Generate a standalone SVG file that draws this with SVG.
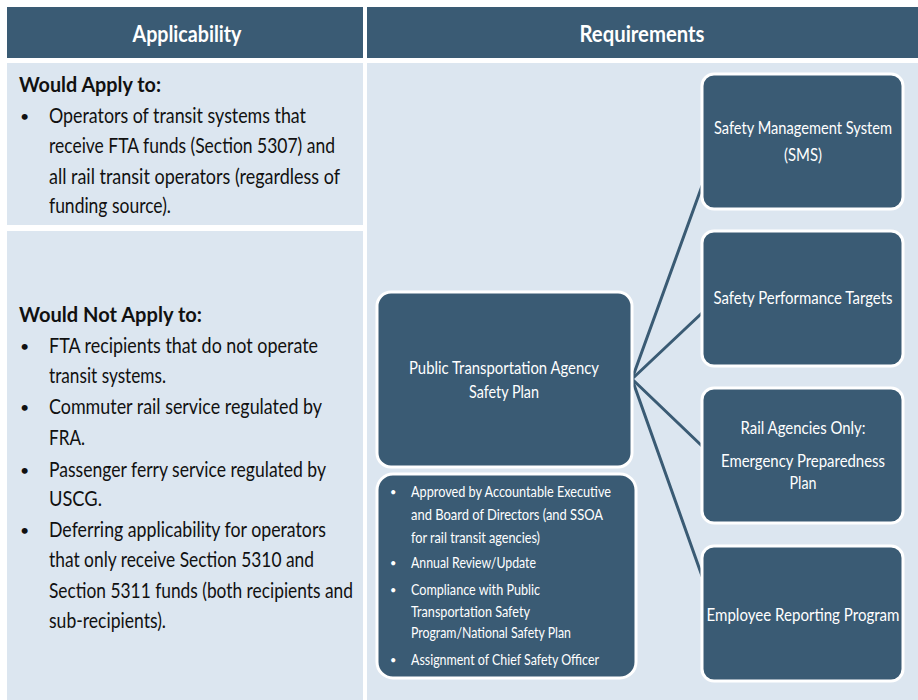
<svg xmlns="http://www.w3.org/2000/svg" width="918" height="700" viewBox="0 0 918 700">
<defs>
<style>
.hdr{fill:#3a5b74}
.cell{fill:#dce6f0}
.box{fill:#3a5b74;stroke:#ffffff;stroke-width:3}
.conn{stroke:#3a5b74;stroke-width:3;fill:none;stroke-linecap:round}
text{font-family:Lato,"Liberation Sans","DejaVu Sans",sans-serif}
.ht{fill:#ffffff;font-size:23px;font-weight:bold;text-anchor:middle}
.lt{fill:#111111;font-size:21.5px}
.lb{fill:#111111;font-size:21.5px;font-weight:bold}
.lbul{fill:#111111;font-size:16px}
.bt{fill:#ffffff;font-size:17.5px;text-anchor:middle}
.st{fill:#ffffff;font-size:15px}
.sbul{fill:#ffffff;font-size:11px}
</style>
</defs>
<rect width="918" height="700" fill="#ffffff"/>
<g id="header-applicability">
<rect class="hdr" x="7" y="7" width="356" height="51"/>
<text class="ht" x="187" y="42" textLength="109" lengthAdjust="spacingAndGlyphs">Applicability</text>
</g>
<g id="header-requirements">
<rect class="hdr" x="367" y="7" width="551" height="51"/>
<text class="ht" x="642" y="42" textLength="125" lengthAdjust="spacingAndGlyphs">Requirements</text>
</g>
<g id="cell-would-apply">
<rect class="cell" x="7" y="63" width="356" height="162"/>
<text class="lb" x="19" y="92" textLength="142" lengthAdjust="spacingAndGlyphs">Would Apply to:</text>
<text class="lbul" x="20" y="122">•</text>
<text class="lt" x="49" y="123" textLength="257" lengthAdjust="spacingAndGlyphs">Operators of transit systems that</text>
<text class="lt" x="49" y="153" textLength="286" lengthAdjust="spacingAndGlyphs">receive FTA funds (Section 5307) and</text>
<text class="lt" x="49" y="184" textLength="291" lengthAdjust="spacingAndGlyphs">all rail transit operators (regardless of</text>
<text class="lt" x="49" y="213" textLength="122" lengthAdjust="spacingAndGlyphs">funding source).</text>
</g>
<g id="cell-would-not-apply">
<rect class="cell" x="7" y="231" width="356" height="469"/>
<text class="lb" x="19" y="322" textLength="183" lengthAdjust="spacingAndGlyphs">Would Not Apply to:</text>
<text class="lbul" x="20" y="352">•</text>
<text class="lt" x="49" y="353" textLength="269" lengthAdjust="spacingAndGlyphs">FTA recipients that do not operate</text>
<text class="lt" x="49" y="383" textLength="117" lengthAdjust="spacingAndGlyphs">transit systems.</text>
<text class="lbul" x="20" y="413">•</text>
<text class="lt" x="49" y="414" textLength="273" lengthAdjust="spacingAndGlyphs">Commuter rail service regulated by</text>
<text class="lt" x="49" y="445" textLength="36" lengthAdjust="spacingAndGlyphs">FRA.</text>
<text class="lbul" x="20" y="476">•</text>
<text class="lt" x="49" y="477" textLength="277" lengthAdjust="spacingAndGlyphs">Passenger ferry service regulated by</text>
<text class="lt" x="49" y="506" textLength="53" lengthAdjust="spacingAndGlyphs">USCG.</text>
<text class="lbul" x="20" y="536">•</text>
<text class="lt" x="49" y="537" textLength="277" lengthAdjust="spacingAndGlyphs">Deferring applicability for operators</text>
<text class="lt" x="49" y="567" textLength="265" lengthAdjust="spacingAndGlyphs">that only receive Section 5310 and</text>
<text class="lt" x="49" y="598" textLength="304" lengthAdjust="spacingAndGlyphs">Section 5311 funds (both recipients and</text>
<text class="lt" x="49" y="628" textLength="117" lengthAdjust="spacingAndGlyphs">sub-recipients).</text>
</g>
<g id="cell-requirements">
<rect class="cell" x="367" y="63" width="551" height="637"/>
</g>
<g id="connectors">
<line class="conn" x1="632" y1="379" x2="702" y2="186"/>
<line class="conn" x1="632" y1="379" x2="702" y2="313"/>
<line class="conn" x1="632" y1="379" x2="702" y2="446"/>
<line class="conn" x1="632" y1="379" x2="702" y2="576"/>
</g>
<g id="node-ptasp">
<rect class="box" x="377" y="292" width="255" height="175" rx="14"/>
<text class="bt" x="504" y="374" textLength="190" lengthAdjust="spacingAndGlyphs">Public Transportation Agency</text>
<text class="bt" x="504" y="398" textLength="70" lengthAdjust="spacingAndGlyphs">Safety Plan</text>
</g>
<g id="node-ptasp-details">
<rect class="box" x="377" y="474" width="259" height="204" rx="16"/>
<text class="sbul" x="390" y="496">•</text>
<text class="st" x="411" y="497" textLength="200" lengthAdjust="spacingAndGlyphs">Approved by Accountable Executive</text>
<text class="st" x="411" y="520" textLength="192" lengthAdjust="spacingAndGlyphs">and Board of Directors (and SSOA</text>
<text class="st" x="411" y="543" textLength="129" lengthAdjust="spacingAndGlyphs">for rail transit agencies)</text>
<text class="sbul" x="390" y="567">•</text>
<text class="st" x="411" y="568" textLength="125" lengthAdjust="spacingAndGlyphs">Annual Review/Update</text>
<text class="sbul" x="390" y="594">•</text>
<text class="st" x="411" y="595" textLength="129" lengthAdjust="spacingAndGlyphs">Compliance with Public</text>
<text class="st" x="411" y="617" textLength="119" lengthAdjust="spacingAndGlyphs">Transportation Safety</text>
<text class="st" x="411" y="638" textLength="160" lengthAdjust="spacingAndGlyphs">Program/National Safety Plan</text>
<text class="sbul" x="390" y="664">•</text>
<text class="st" x="411" y="665" textLength="188" lengthAdjust="spacingAndGlyphs">Assignment of Chief Safety Officer</text>
</g>
<g id="node-sms">
<rect class="box" x="702" y="74" width="201" height="135" rx="12"/>
<text class="bt" x="803" y="134" textLength="178" lengthAdjust="spacingAndGlyphs">Safety Management System</text>
<text class="bt" x="803" y="161" textLength="38" lengthAdjust="spacingAndGlyphs">(SMS)</text>
</g>
<g id="node-targets">
<rect class="box" x="702" y="231" width="201" height="135" rx="12"/>
<text class="bt" x="803" y="304" textLength="179" lengthAdjust="spacingAndGlyphs">Safety Performance Targets</text>
</g>
<g id="node-emergency">
<rect class="box" x="702" y="388" width="201" height="135" rx="12"/>
<text class="bt" x="803" y="434" textLength="125" lengthAdjust="spacingAndGlyphs">Rail Agencies Only:</text>
<text class="bt" x="803" y="467" textLength="164" lengthAdjust="spacingAndGlyphs">Emergency Preparedness</text>
<text class="bt" x="803" y="489" textLength="27" lengthAdjust="spacingAndGlyphs">Plan</text>
</g>
<g id="node-reporting">
<rect class="box" x="702" y="546" width="201" height="135" rx="12"/>
<text class="bt" x="803" y="621" textLength="193" lengthAdjust="spacingAndGlyphs">Employee Reporting Program</text>
</g>
</svg>
